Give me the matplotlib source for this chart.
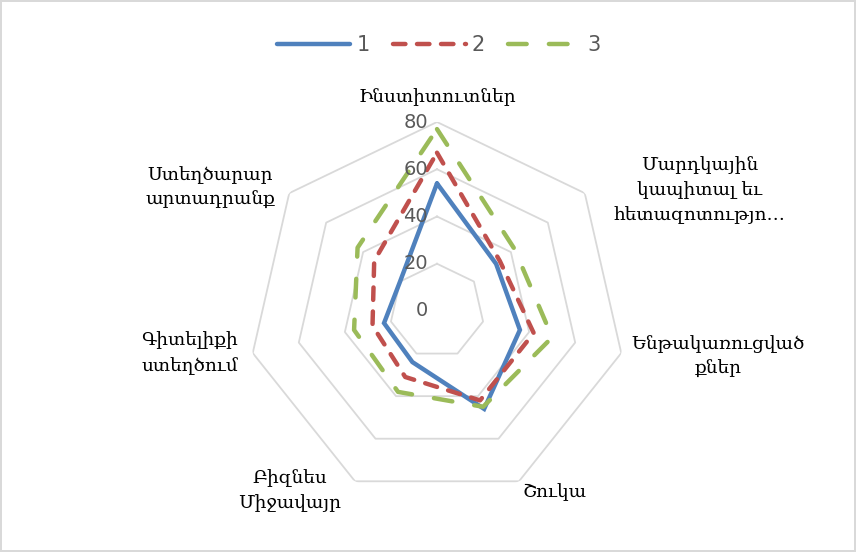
import numpy as np
import matplotlib
matplotlib.use('Agg')
import matplotlib.pyplot as plt

categories = ["Ինստիտուտներ",
              "Մարդկային\nկապիտալ եւ\nհետազոտությո…",
              "Ենթակառուցված\nքներ",
              "Շուկա",
              "Բիզնես\nՄիջավայր",
              "Գիտելիքի\nստեղծում",
              "Ստեղծարար\nարտադրանք"]
series_names = ["1", "2", "3"]
s1 = [54, 32, 36, 46, 24, 23, 20]
s2 = [67, 34, 42, 42, 31, 28, 34]
s3 = [77, 42, 50, 45, 38, 36, 43]
r_ticks = [0, 20, 40, 60, 80]

# label offsets (pixels) from the outer vertex
label_off = [(0, 25), (115, 3), (97, -3), (36, -11), (-65, -9), (-63, 0), (-79, 6)]

fig = plt.figure(figsize=(8.56, 5.52), dpi=100)
fig.patch.set_edgecolor('#D9D9D9')
fig.patch.set_linewidth(1.5)
ax = fig.add_axes([248/856, 52/552, 378/856, 378/552], projection='polar')
ax.set_theta_offset(np.pi/2)
ax.set_theta_direction(-1)
ax.set_ylim(0, 80)
ax.grid(False)
ax.set_xticks([])
ax.set_yticks([])
ax.spines['polar'].set_visible(False)
ax.patch.set_visible(False)

n = len(categories)
theta = np.linspace(0, 2*np.pi, n, endpoint=False)
tc = np.append(theta, theta[0])

# heptagon grid
for r in r_ticks[1:]:
    ax.plot(tc, [r]*(n+1), color='#D9D9D9', lw=1.3, zorder=1)

styles = [dict(color='#4F81BD', ls='-'),
          dict(color='#C0504D', ls=(0, (2.8, 2.6))),
          dict(color='#9BBB59', ls=(0, (4.2, 5.0)))]
for name, vals, st in zip(series_names, [s1, s2, s3], styles):
    ax.plot(tc, vals + vals[:1], color=st['color'], linestyle=st['ls'], lw=3.2,
            dash_capstyle='round', solid_capstyle='round', solid_joinstyle='miter',
            label=name, zorder=3)

for r in r_ticks:
    ax.annotate(str(r), xy=(0, r), xytext=(-9, 0), textcoords='offset pixels',
                ha='right', va='center', fontsize=14, color='#595959', zorder=4)

for t, lab, off in zip(theta, categories, label_off):
    ax.annotate(lab, xy=(t, 80), xytext=off, textcoords='offset pixels',
                ha='center', va='center', fontsize=13.3, color='#000000',
                family=['DejaVu Serif', 'DejaVu Sans'], linespacing=1.5,
                annotation_clip=False)

fig.legend(loc='center', bbox_to_anchor=(439/856, 1-45/552), ncol=3, frameon=False,
           fontsize=15, handlelength=3.5, columnspacing=1.1, handletextpad=0.3,
           labelcolor='#595959')

plt.savefig('out.png', dpi=100)
